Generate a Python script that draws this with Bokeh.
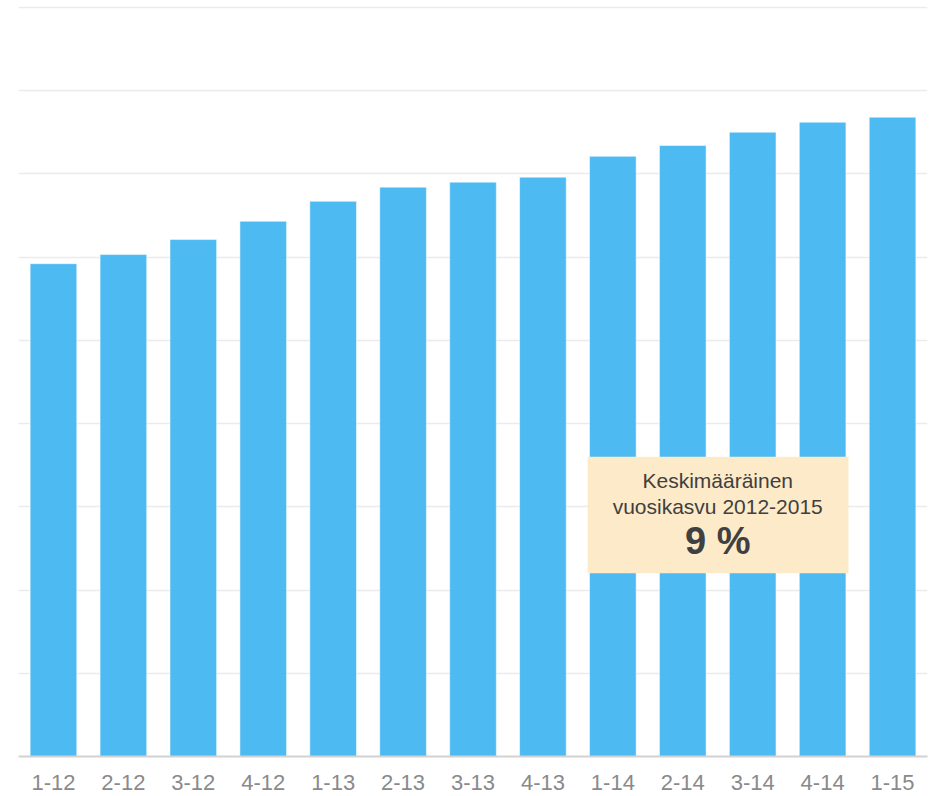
from bokeh.plotting import figure
from bokeh.models import ColumnDataSource, FixedTicker, BoxAnnotation, Label, Range1d
from bokeh.embed import file_html
from bokeh.resources import INLINE

# ---- data ----
quarters = ["1-12", "2-12", "3-12", "4-12", "1-13", "2-13", "3-13", "4-13",
            "1-14", "2-14", "3-14", "4-14", "1-15"]
values = [59.2, 60.3, 62.1, 64.3, 66.7, 68.4, 69.0, 69.6,
          72.1, 73.4, 75.0, 76.2, 76.8]
grid_ticks = [0, 10, 20, 30, 40, 50, 60, 70, 80, 90]
note_line1 = "Keskimääräinen"
note_line2 = "vuosikasvu 2012-2015"
note_value = "9 %"

FONT = "Liberation Sans"

source = ColumnDataSource(data=dict(q=quarters, v=values))

p = figure(x_range=quarters, y_range=Range1d(0, 90.1),
           width=930, height=796, output_backend="svg",
           toolbar_location=None, y_axis_location=None,
           min_border_left=18, min_border_right=3,
           min_border_top=6, min_border_bottom=40)

p.vbar(x="q", top="v", width=0.667, source=source,
       fill_color="#40B5F1", fill_alpha=0.93,
       line_color="#ffffff", line_alpha=0.5, line_width=1)

p.outline_line_color = None
p.xgrid.visible = False
p.ygrid.ticker = FixedTicker(ticks=grid_ticks)
p.ygrid.grid_line_color = "#e6e6e6"
p.ygrid.grid_line_width = 1.5
p.ygrid.grid_line_alpha = 0.8

xa = p.xaxis[0]
xa.axis_line_color = "#d2d2d2"
xa.axis_line_width = 2
xa.major_tick_line_color = None
xa.minor_tick_line_color = None
xa.major_tick_out = 0
xa.major_tick_in = 0
xa.major_label_standoff = 18
xa.major_label_text_font = FONT
xa.major_label_text_font_size = "22px"
xa.major_label_text_color = "#8a8a8a"

# annotation box (synthetic categorical coordinates)
box = BoxAnnotation(left=8.14, right=11.87, bottom=22.0, top=36.0,
                    fill_color="#FDEAC9", fill_alpha=1.0, line_color=None,
                    level="overlay")
p.add_layout(box)

for txt, y, size, style in [(note_line1, 33.1, "21px", "normal"),
                            (note_line2, 30.0, "21px", "normal"),
                            (note_value, 25.9, "38px", "bold")]:
    p.add_layout(Label(x=10.0, y=y, text=txt, text_align="center",
                       text_baseline="middle", text_font=FONT,
                       text_font_size=size, text_font_style=style,
                       text_color="#404040", level="overlay"))

open("out.html", "w").write(file_html(p, INLINE))
